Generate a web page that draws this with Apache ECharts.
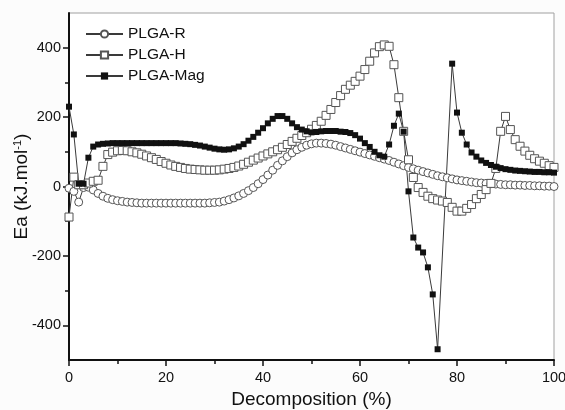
<!DOCTYPE html>
<html>
<head>
<meta charset="utf-8">
<script src="https://cdn.jsdelivr.net/npm/echarts@6/dist/echarts.min.js"></script>
<style>
  html, body { margin: 0; padding: 0; background: #fcfcfc; }
  #chart { width: 565px; height: 410px; }
</style>
</head>
<body>
<div id="chart"></div>
<script>
// decomposition step (%) between consecutive measurements
var step = 1;

// Ea values (kJ/mol), one per 1 % of decomposition (0..100)
var eaR = [
  -5, -14, -45, -3, -2, -10, -20, -28, -34, -38,
  -41, -43, -45, -46, -47, -48, -48, -48, -48, -48,
  -48, -48, -48, -48, -48, -48, -48, -48, -48, -47,
  -46, -45, -42, -38, -33, -27, -20, -12, -3, 8,
  20, 33, 47, 61, 74, 86, 97, 106, 113, 119,
  123, 125, 125, 124, 122, 119, 115, 111, 107, 103,
  99, 95, 91, 87, 83, 79, 75, 70, 65, 60,
  55, 51, 47, 43, 39, 35, 31, 28, 25, 22,
  19, 17, 15, 13, 11, 10, 9, 8, 7, 6,
  5, 5, 4, 4, 3, 3, 2, 2, 1, 1,
  0
];

var eaH = [
  -88, 27, 5, 5, 10, 15, 18, 58, 92, 99,
  103, 104, 103, 100, 97, 93, 88, 83, 78, 72,
  67, 62, 58, 55, 52, 50, 49, 48, 47, 47,
  47, 48, 50, 52, 55, 59, 64, 70, 76, 82,
  88, 94, 100, 106, 113, 121, 130, 139, 147, 155,
  165, 176, 188, 205, 222, 242, 262, 280, 292, 303,
  318, 337, 361, 385, 403, 408, 404, 351, 256, 159,
  77, 26, -3, -17, -28, -35, -39, -42, -46, -60,
  -71, -71, -63, -52, -35, -23, -9, 9, 52, 159,
  202, 164, 135, 116, 102, 90, 80, 73, 67, 60,
  55
];

var eaMag = [
  230, 150, 8, 8, 83, 115, 121, 123, 124, 125,
  125, 125, 125, 125, 125, 125, 125, 125, 125, 125,
  125, 125, 125, 124, 123, 122, 120, 118, 115, 112,
  109, 107, 106, 107, 110, 115, 122, 132, 143, 155,
  168, 182, 195, 203, 203, 195, 182, 171, 164, 159,
  156, 157, 159, 160, 160, 160, 158, 157, 154, 148,
  138, 125, 114, 100, 90, 86, 121, 175, 210, 158,
  -14, -147, -176, -190, -233, -311, -469, null, null, 354,
  213, 155, 121, 98, 86, 75, 68, 62, 57, 53,
  50, 48, 46, 45, 44, 43, 42, 42, 41, 41,
  40
];

var seriesNames = ['PLGA-R', 'PLGA-H', 'PLGA-Mag'];
var xTicks = [0, 20, 40, 60, 80, 100];
var yMajor = [-400, -200, 0, 200, 400];
var yMinor = [-300, -100, 100, 300];

function toPairs(values) {
  return values.map(function (v, i) { return [i * step, v]; });
}

var font = 'Liberation Sans, Arial, sans-serif';
var lineStyle = { color: '#3a3a3a', width: 1 };
var tickStyle = { color: '#111', width: 1.5 };

var chart = echarts.init(document.getElementById('chart'));

chart.setOption({
  backgroundColor: '#fcfcfc',
  animation: false,
  textStyle: { fontFamily: font },
  grid: {
    left: 69, right: 11, top: 13, bottom: 50,
    outerBoundsMode: 'none', containLabel: false,
    show: true, borderColor: '#a0a0a0', borderWidth: 1, backgroundColor: '#fff'
  },
  legend: {
    orient: 'vertical',
    left: 80, top: 21,
    itemWidth: 37, itemHeight: 9, itemGap: 5,
    textStyle: { fontSize: 15.5, color: '#111', fontFamily: font },
    data: seriesNames
  },
  xAxis: {
    type: 'value', min: 0, max: 100, interval: 20,
    name: 'Decomposition (%)', nameLocation: 'middle', nameGap: 29,
    nameTextStyle: { fontSize: 19, color: '#111' },
    axisLine: { onZero: false, lineStyle: { color: '#111', width: 2 } },
    axisTick: { length: 6, lineStyle: tickStyle },
    minorTick: { show: true, splitNumber: 2, length: 4, lineStyle: tickStyle },
    splitLine: { show: false },
    axisLabel: { fontSize: 14.5, color: '#111', margin: 10, customValues: xTicks }
  },
  yAxis: [{
    type: 'value', min: -500, max: 500,
    name: '{a|Ea (kJ.mol}{s|-1}{a|)}', nameLocation: 'middle', nameGap: 37, nameRotate: 90,
    nameMoveOverlap: false,
    nameTextStyle: {
      rich: {
        a: { fontSize: 19, color: '#111', fontFamily: font },
        s: { fontSize: 11, color: '#111', fontFamily: font, verticalAlign: 'top', padding: [0, 0, 9, 0] }
      }
    },
    axisLine: { show: true, onZero: false, lineStyle: { color: '#111', width: 2 } },
    axisTick: { show: true, length: 6, lineStyle: tickStyle, customValues: yMajor },
    splitLine: { show: false },
    axisLabel: { fontSize: 14.5, color: '#111', margin: 8, customValues: yMajor }
  }, {
    type: 'value', min: -500, max: 500, position: 'left',
    axisLine: { show: false, onZero: false },
    axisTick: { show: true, length: 4, lineStyle: tickStyle, customValues: yMinor },
    splitLine: { show: false },
    axisLabel: { show: false }
  }],
  series: [{
    name: seriesNames[0], type: 'line', data: toPairs(eaR),
    symbol: 'circle', symbolSize: 8,
    itemStyle: { color: '#fff', borderColor: '#555', borderWidth: 1 },
    lineStyle: lineStyle
  }, {
    name: seriesNames[1], type: 'line', data: toPairs(eaH),
    symbol: 'rect', symbolSize: 8,
    itemStyle: { color: '#fff', borderColor: '#555', borderWidth: 1 },
    lineStyle: lineStyle
  }, {
    name: seriesNames[2], type: 'line', data: toPairs(eaMag), connectNulls: true,
    symbol: 'rect', symbolSize: 6,
    itemStyle: { color: '#111' },
    lineStyle: lineStyle
  }]
});
</script>
</body>
</html>
